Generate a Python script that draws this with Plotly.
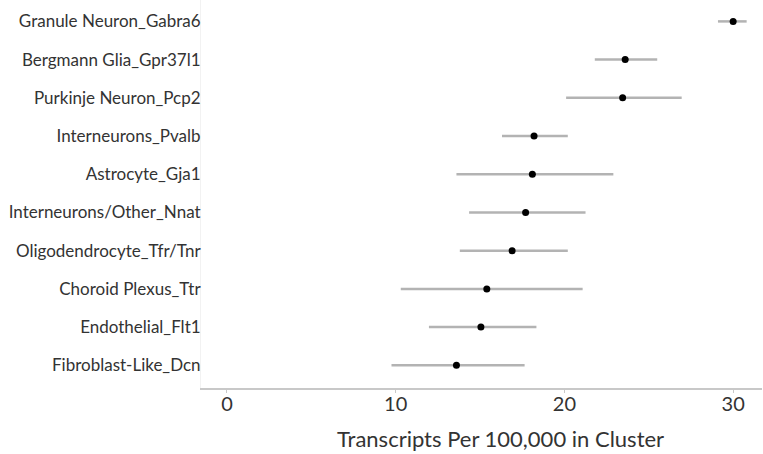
import plotly.graph_objects as go

categories = [
    "Granule Neuron_Gabra6",
    "Bergmann Glia_Gpr37l1",
    "Purkinje Neuron_Pcp2",
    "Interneurons_Pvalb",
    "Astrocyte_Gja1",
    "Interneurons/Other_Nnat",
    "Oligodendrocyte_Tfr/Tnr",
    "Choroid Plexus_Ttr",
    "Endothelial_Flt1",
    "Fibroblast-Like_Dcn",
]
means = [30.0, 23.6, 23.45, 18.2, 18.1, 17.7, 16.9, 15.4, 15.05, 13.6]
lows = [29.1, 21.8, 20.1, 16.3, 13.6, 14.35, 13.8, 10.3, 11.97, 9.75]
highs = [30.8, 25.5, 26.95, 20.2, 22.9, 21.25, 20.2, 21.08, 18.34, 17.64]
x_ticks = [0, 10, 20, 30]
x_title = "Transcripts Per 100,000 in Cluster"

err_plus = [h - m for h, m in zip(highs, means)]
err_minus = [m - l for m, l in zip(means, lows)]

fig = go.Figure()
fig.add_trace(go.Scatter(
    x=means, y=categories, mode="markers",
    marker=dict(color="#000000", size=7),
    error_x=dict(type="data", symmetric=False, array=err_plus, arrayminus=err_minus,
                 color="#b3b3b3", thickness=2.5, width=0),
    showlegend=False,
))

font_family = "Lato, Open Sans, sans-serif"
fig.update_layout(
    width=763, height=454,
    margin=dict(l=201, r=1, t=0, b=66),
    paper_bgcolor="white", plot_bgcolor="white",
    font=dict(family=font_family, color="#333333"),
    xaxis=dict(
        range=[-1.54, 31.71], tickvals=x_ticks, showgrid=False, zeroline=False,
        showline=True, linecolor="#c8c8c8", linewidth=2,
        ticks="outside", ticklen=3, tickcolor="#c8c8c8", tickwidth=1,
        ticklabelstandoff=-6,
        tickfont=dict(size=20, color="#333333"),
    ),
    yaxis=dict(
        type="category", categoryorder="array", categoryarray=categories[::-1],
        range=[-0.594, 9.56], showgrid=False, zeroline=False,
        showline=True, linecolor="#f2f2f2", linewidth=1,
        ticks="", ticklabelstandoff=-4,
        tickfont=dict(size=17, color="#333333"),
    ),
    annotations=[dict(
        text=x_title, xref="paper", yref="paper", x=0.533, y=-0.131,
        xanchor="center", yanchor="middle", showarrow=False,
        font=dict(size=22, color="#333333", family=font_family),
    )],
)

fig.write_html("out.html")
